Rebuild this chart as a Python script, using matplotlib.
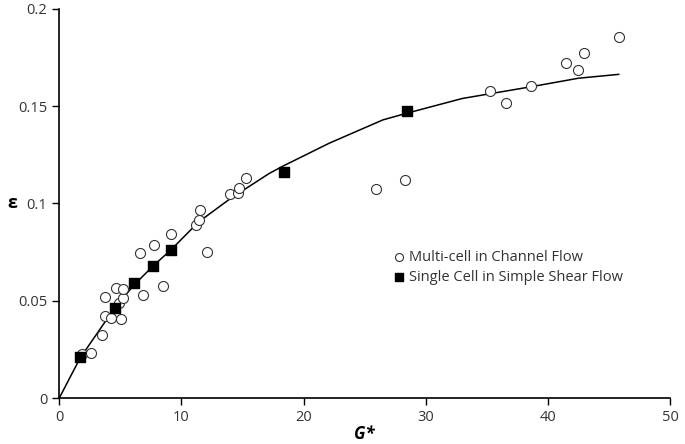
import numpy as np
import matplotlib
matplotlib.use("Agg")
import matplotlib.pyplot as plt

plt.rcParams['font.family'] = ['Open Sans', 'DejaVu Sans']

# Multi-cell in channel flow (open circles)
multi_x = [1.83, 2.59, 3.51, 3.76, 3.76, 4.2, 4.66, 4.85, 5.2, 5.23, 5.04, 6.57, 6.86,
           7.74, 8.47, 9.13, 11.22, 11.41, 11.5, 12.09, 13.95, 14.65, 14.68, 15.25,
           25.93, 28.27, 35.27, 36.58, 38.62, 41.45, 42.5, 42.95, 45.8]
multi_y = [0.0225, 0.0233, 0.0322, 0.0423, 0.0518, 0.0411, 0.0566, 0.0487, 0.0512, 0.0559,
           0.0405, 0.0746, 0.0528, 0.0785, 0.0577, 0.0845, 0.0888, 0.0915, 0.0968, 0.0752,
           0.1047, 0.1056, 0.1078, 0.113, 0.1073, 0.1122, 0.158, 0.1517, 0.1604, 0.1721,
           0.1686, 0.1772, 0.1856]

# Single cell in simple shear flow (filled squares)
single_x = [1.67, 4.52, 6.10, 7.68, 9.15, 18.38, 28.46]
single_y = [0.0212, 0.0464, 0.0593, 0.0679, 0.0761, 0.1162, 0.1477]

# fitted curve
curve_x = [0, 1.7, 4.5, 6.1, 7.7, 9.2, 11.4, 14.0, 17.2, 18.4, 22.1, 26.5, 28.5, 33.0, 38.6, 42.5, 45.8]
curve_y = [0, 0.0205, 0.046, 0.058, 0.068, 0.0765, 0.0905, 0.1025, 0.1155, 0.1195, 0.131,
           0.143, 0.1465, 0.154, 0.160, 0.1644, 0.1664]

fig = plt.figure(figsize=(6.85, 4.44), dpi=100)
ax = fig.add_axes([59.3 / 685, 1 - 398 / 444, (670 - 59.3) / 685, (398 - 9) / 444])

ax.plot(curve_x, curve_y, color='black', lw=1.1, zorder=2)
ax.scatter(multi_x, multi_y, s=52, facecolors='white', edgecolors='#333333',
           linewidths=0.8, marker='o', zorder=3, label='Multi-cell in Channel Flow')
ax.scatter(single_x, single_y, s=60, color='black', marker='s', zorder=4,
           label='Single Cell in Simple Shear Flow')

ax.set_xlim(0, 50)
ax.set_ylim(0, 0.2)
ax.set_xticks([0, 10, 20, 30, 40, 50])
ax.set_yticks([0, 0.05, 0.1, 0.15, 0.2])
ax.set_yticklabels(['0', '0.05', '0.1', '0.15', '0.2'])
ax.spines['top'].set_visible(False)
ax.spines['right'].set_visible(False)
for s in ['left', 'bottom']:
    ax.spines[s].set_linewidth(1.2)
ax.tick_params(direction='out', length=5, width=1, labelsize=10.5, colors='black',
               labelcolor='#333333')

ax.set_xlabel('G*', fontsize=12, fontweight='bold', style='italic', labelpad=0)
ax.set_ylabel('ε', fontsize=13, fontweight='bold', rotation=0, labelpad=4, va='center')

ax.legend(loc='upper left', bbox_to_anchor=(0.53, 0.4), frameon=False, fontsize=10.5,
          handletextpad=0.1, handlelength=1.2, labelspacing=0.35, borderpad=0,
          markerscale=0.8, labelcolor='#333333')

fig.savefig('out.png', dpi=100)
